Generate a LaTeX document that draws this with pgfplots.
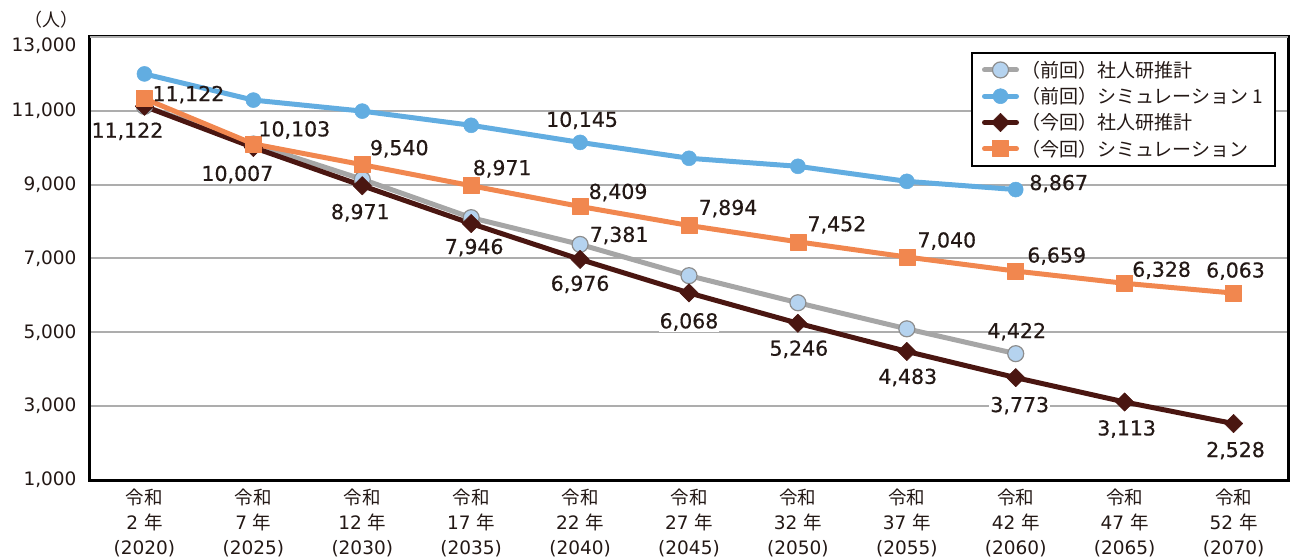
\documentclass[border=0pt]{standalone}
\usepackage{fontspec}
\setmainfont{DejaVu Sans}
\newfontfamily\jp{Noto Sans CJK JP}
\newfontfamily\lab[FakeBold=0.5]{DejaVu Sans}
\usepackage{pgfplots}
\usepackage{pgfplotstable}
\pgfplotsset{compat=1.18}

\definecolor{zgray}{HTML}{A6A6A6}
\definecolor{zpale}{HTML}{B5D3EF}
\definecolor{zblue}{HTML}{62ADE1}
\definecolor{zdark}{HTML}{4A1611}
\definecolor{zorange}{HTML}{F1874F}
\definecolor{zgrid}{HTML}{ADADAD}
\definecolor{ztext}{HTML}{231815}

% (前回) 社人研推計
\pgfplotstableread{
x y
0 11122
1 10100
2 9144
3 8106
4 7381
5 6535
6 5801
7 5095
8 4422
}\zenSJ
\pgfplotstableread{
x y dx dy lab
4 7381 39 9 7,381
8 4422 1 22 4,422
}\zenSJlab

% (前回) シミュレーション1
\pgfplotstableread{
x y
0 12000
1 11291
2 10992
3 10608
4 10145
5 9715
6 9497
7 9090
8 8867
}\zenSim
\pgfplotstableread{
x y dx dy lab
4 10145 2 22 10,145
8 8867 43 6 8,867
}\zenSimlab

% (今回) 社人研推計
\pgfplotstableread{
x y dx dy lab
0 11122 -17 -25 11,122
1 10007 -16 -27 10,007
2 8971 -2 -27 8,971
3 7946 3 -24 7,946
4 6976 0 -25 6,976
5 6068 0 -29 6,068
6 5246 1 -26 5,246
7 4483 1 -26 4,483
8 3773 4 -28 3,773
9 3113 2 -27 3,113
10 2528 2 -27 2,528
}\konSJ

% (今回) シミュレーション
\pgfplotstableread{
x y dx dy lab
0 11330 44 4 11,122
1 10103 41 14 10,103
2 9540 37 16 9,540
3 8971 31 17 8,971
4 8409 38 14 8,409
5 7894 39 17 7,894
6 7452 39 17 7,452
7 7040 40 16 7,040
8 6659 41 15 6,659
9 6328 37 13 6,328
10 6063 2 22 6,063
}\konSim

\pgfplotsset{
  vlabels/.style={
    draw=none, mark=none, forget plot,
    nodes near coords, point meta=explicit symbolic,
    visualization depends on={\thisrow{dx}\as\ddx},
    visualization depends on={\thisrow{dy}\as\ddy},
    every node near coord/.append style={anchor=center, text=ztext,
      font=\lab\fontsize{20.5}{22}\selectfont, inner sep=1pt,
      xshift=\ddx pt, yshift=\ddy pt},
  },
}

\begin{document}
\begin{tikzpicture}
\path[use as bounding box] (-90pt,-79pt) rectangle (1202pt,480pt);
\begin{axis}[
  at={(0pt,0pt)}, anchor=south west,
  width=1198pt, height=443pt, scale only axis,
  clip=false,
  xmin=-0.5, xmax=10.5, ymin=1000, ymax=13000,
  xtick={0,...,10},
  xticklabels={
    {{\jp 令和}\\2 {\jp 年}\\(2020)},
    {{\jp 令和}\\7 {\jp 年}\\(2025)},
    {{\jp 令和}\\12 {\jp 年}\\(2030)},
    {{\jp 令和}\\17 {\jp 年}\\(2035)},
    {{\jp 令和}\\22 {\jp 年}\\(2040)},
    {{\jp 令和}\\27 {\jp 年}\\(2045)},
    {{\jp 令和}\\32 {\jp 年}\\(2050)},
    {{\jp 令和}\\37 {\jp 年}\\(2055)},
    {{\jp 令和}\\42 {\jp 年}\\(2060)},
    {{\jp 令和}\\47 {\jp 年}\\(2065)},
    {{\jp 令和}\\52 {\jp 年}\\(2070)}},
  xticklabel style={align=center, text=ztext,
    font=\fontsize{18.5}{25}\selectfont, yshift=-5pt},
  ytick={1000,3000,5000,7000,9000,11000},
  extra y ticks={13000},
  extra y tick style={yticklabel style={yshift=-9pt}},
  scaled y ticks=false,
  yticklabel style={text=ztext, font=\fontsize{18.5}{20}\selectfont,
    xshift=-10pt,
    /pgf/number format/1000 sep={,},
    /pgf/number format/assume math mode=true},
  ymajorgrids,
  major grid style={zgrid, line width=2pt},
  major tick length=0pt,
  axis line style={black, line width=3pt},
  legend style={at={(0.7354,0.966)}, anchor=north west,
    draw=black, line width=2pt, fill=white,
    font=\jp\fontsize{19}{19}\selectfont, text=ztext,
    row sep=4.5pt, inner xsep=10pt, inner ysep=6pt,
    /tikz/every even column/.append style={column sep=3pt}},
  legend cell align=left,
  legend image code/.code={
    \draw[#1, mark repeat=2, mark phase=2]
      plot coordinates {(0pt,0pt) (16pt,0pt) (32pt,0pt)};},
]
\addplot[zgray, line width=5pt, line join=round, line cap=round,
  mark=*, mark size=8pt,
  mark options={fill=zpale, draw=zgray!85!black, line width=1.2pt}]
  table[x=x,y=y]{\zenSJ};
\addlegendentry{（前回）社人研推計}
\addplot[zblue, line width=5pt, line join=round, line cap=round,
  mark=*, mark size=7.5pt,
  mark options={fill=zblue, draw=zblue, line width=0.5pt}]
  table[x=x,y=y]{\zenSim};
\addlegendentry{（前回）シミュレーション 1}
\addplot[zdark, line width=5pt, line join=round, line cap=round,
  mark=square*, mark size=6.5pt,
  mark options={rotate=45, fill=zdark, draw=zdark, line width=0.5pt}]
  table[x=x,y=y]{\konSJ};
\addlegendentry{（今回）社人研推計}
\addplot[zorange, line width=5pt, line join=round, line cap=round,
  mark=square*, mark size=8pt,
  mark options={fill=zorange, draw=zorange, line width=0.5pt}]
  table[x=x,y=y]{\konSim};
\addlegendentry{（今回）シミュレーション}

\addplot[vlabels] table[x=x,y=y,meta=lab]{\zenSJlab};
\addplot[vlabels] table[x=x,y=y,meta=lab]{\zenSimlab};
\addplot[vlabels, every node near coord/.append style={fill=white}]
  table[x=x,y=y,meta=lab]{\konSJ};
\addplot[vlabels] table[x=x,y=y,meta=lab]{\konSim};
\end{axis}
\node[text=ztext, font=\jp\fontsize{18}{18}\selectfont] at (-38pt,460pt) {（人）};
\end{tikzpicture}
\end{document}
